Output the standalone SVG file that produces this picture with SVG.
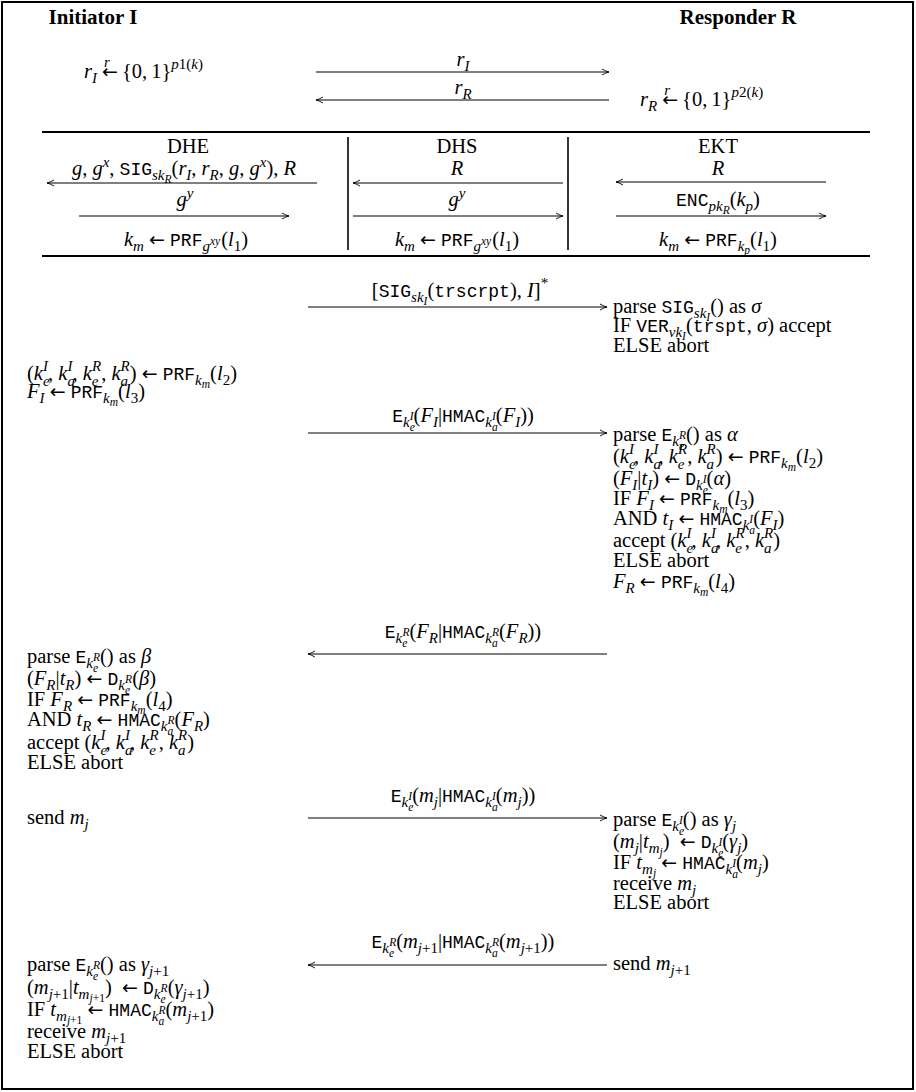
<svg xmlns="http://www.w3.org/2000/svg" width="916" height="1092" viewBox="0 0 916 1092">
<style>
text{font-family:"Liberation Serif","Times New Roman",serif;font-size:20.5px;fill:#000}
.i{font-style:italic}
.tt{font-family:"Liberation Mono","Courier New",monospace;font-size:18px;font-style:normal}
.s{font-size:15px}
.ss{font-size:11.5px}
.ar{font-family:"DejaVu Sans",sans-serif;font-size:19px;font-style:normal}
.h{font-weight:bold;font-size:21px}
.c{text-anchor:middle}
.ln{stroke:#000;stroke-width:1;fill:none}
.rule{stroke:#000;stroke-width:2;fill:none}
.vr{stroke:#000;stroke-width:1.6;fill:none}
</style>
<defs>
<marker id="ah" markerWidth="10" markerHeight="8" refX="8" refY="4" orient="auto" markerUnits="userSpaceOnUse"><path d="M1,1 Q5,3.3 8,4 Q5,4.7 1,7" fill="none" stroke="#000" stroke-width="0.9"/></marker>
</defs>
<rect x="2" y="2" width="911" height="1087" fill="#fff" class="rule"/>

<g id="headers">
<text class="h c" x="93" y="24">Initiator I</text>
<text class="h c" x="738" y="24">Responder R</text>
</g>

<g id="nonces">
<text x="84" y="78"><tspan class="i">r</tspan><tspan class="s i" dy="5">I</tspan><tspan dy="-5"> <tspan class="ar">←</tspan></tspan><tspan class="s i" dx="-14" dy="-11">r</tspan><tspan dx="12" dy="11">{0,&#8201;1}</tspan><tspan class="s" dy="-9"><tspan class="i">p</tspan>1(<tspan class="i">k</tspan>)</tspan></text>
<text class="c" x="463" y="66"><tspan class="i">r</tspan><tspan class="s i" dy="5">I</tspan></text>
<text class="c" x="463" y="94"><tspan class="i">r</tspan><tspan class="s i" dy="5">R</tspan></text>
<text x="640" y="106"><tspan class="i">r</tspan><tspan class="s i" dy="5">R</tspan><tspan dy="-5"> <tspan class="ar">←</tspan></tspan><tspan class="s i" dx="-14" dy="-11">r</tspan><tspan dx="12" dy="11">{0,&#8201;1}</tspan><tspan class="s" dy="-9"><tspan class="i">p</tspan>2(<tspan class="i">k</tspan>)</tspan></text>
</g>

<g id="table">
<line class="rule" x1="42" y1="132" x2="870" y2="132"/>
<line class="rule" x1="42" y1="256" x2="870" y2="256"/>
<line class="vr" x1="348" y1="137" x2="348" y2="250"/>
<line class="vr" x1="568" y1="137" x2="568" y2="250"/>
</g>

<g id="dhe">
<text class="c" x="188" y="153">DHE</text>
<text class="c" x="184" y="175"><tspan class="i">g</tspan>, <tspan class="i">g</tspan><tspan class="s i" dy="-8">x</tspan><tspan dy="8">, </tspan><tspan class="tt">SIG</tspan><tspan class="s i" dy="5">sk</tspan><tspan class="ss i" dy="3">R</tspan><tspan dy="-8">(</tspan><tspan class="i">r</tspan><tspan class="s i" dy="5">I</tspan><tspan dy="-5">, </tspan><tspan class="i">r</tspan><tspan class="s i" dy="5">R</tspan><tspan dy="-5">, </tspan><tspan class="i">g</tspan>, <tspan class="i">g</tspan><tspan class="s i" dy="-8">x</tspan><tspan dy="8">), </tspan><tspan class="i">R</tspan></text>
<text class="c" x="185" y="206"><tspan class="i">g</tspan><tspan class="s i" dy="-8">y</tspan></text>
<text class="c" x="186" y="246"><tspan class="i">k</tspan><tspan class="s i" dy="5">m</tspan><tspan dy="-5"> <tspan class="ar">←</tspan> </tspan><tspan class="tt">PRF</tspan><tspan class="s i" dy="5">g</tspan><tspan class="ss i" dy="-6">xy</tspan><tspan dx="1" dy="1">(</tspan><tspan class="i">l</tspan><tspan class="s" dy="5">1</tspan><tspan dy="-5">)</tspan></text>
</g>

<g id="dhs">
<text class="c" x="457" y="153">DHS</text>
<text class="c i" x="457" y="175">R</text>
<text class="c" x="457" y="206"><tspan class="i">g</tspan><tspan class="s i" dy="-8">y</tspan></text>
<text class="c" x="457" y="246"><tspan class="i">k</tspan><tspan class="s i" dy="5">m</tspan><tspan dy="-5"> <tspan class="ar">←</tspan> </tspan><tspan class="tt">PRF</tspan><tspan class="s i" dy="5">g</tspan><tspan class="ss i" dy="-6">xy</tspan><tspan dx="1" dy="1">(</tspan><tspan class="i">l</tspan><tspan class="s" dy="5">1</tspan><tspan dy="-5">)</tspan></text>
</g>

<g id="ekt">
<text class="c" x="718" y="153">EKT</text>
<text class="c i" x="718" y="175">R</text>
<text class="c" x="718" y="206"><tspan class="tt">ENC</tspan><tspan class="s i" dy="5">pk</tspan><tspan class="ss i" dy="3">R</tspan><tspan dy="-8">(</tspan><tspan class="i">k</tspan><tspan class="s i" dy="5">p</tspan><tspan dy="-5">)</tspan></text>
<text class="c" x="718" y="246"><tspan class="i">k</tspan><tspan class="s i" dy="5">m</tspan><tspan dy="-5"> <tspan class="ar">←</tspan> </tspan><tspan class="tt">PRF</tspan><tspan class="s i" dy="5">k</tspan><tspan class="ss i" dy="3">p</tspan><tspan dy="-8">(</tspan><tspan class="i">l</tspan><tspan class="s" dy="5">1</tspan><tspan dy="-5">)</tspan></text>
</g>

<g id="msg-sig">
<text class="c" x="460" y="297">[<tspan class="tt">SIG</tspan><tspan class="s i" dy="5">sk</tspan><tspan class="ss i" dy="3">I</tspan><tspan dy="-8">(</tspan><tspan class="tt">trscrpt</tspan>), <tspan class="i">I</tspan>]<tspan class="s" dy="-9">*</tspan></text>
</g>

<g id="r-verify">
<text x="613" y="313">parse <tspan class="tt">SIG</tspan><tspan class="s i" dy="5">sk</tspan><tspan class="ss i" dy="3">I</tspan><tspan dy="-8">() as </tspan><tspan class="i">σ</tspan></text>
<text x="613" y="332">IF <tspan class="tt">VER</tspan><tspan class="s i" dy="5">vk</tspan><tspan class="ss i" dy="3">I</tspan><tspan dy="-8">(</tspan><tspan class="tt">trspt</tspan>, <tspan class="i">σ</tspan>) accept</text>
<text x="613" y="352">ELSE abort</text>
</g>

<g id="i-keys">
<text x="27" y="380">(<tspan class="i">k</tspan><tspan class="s i" dy="6">e</tspan><tspan class="s i" dx="-6.5" dy="-15">I</tspan><tspan dy="9">, </tspan><tspan class="i">k</tspan><tspan class="s i" dy="6">a</tspan><tspan class="s i" dx="-7.5" dy="-15">I</tspan><tspan dy="9">, </tspan><tspan class="i">k</tspan><tspan class="s i" dy="6">e</tspan><tspan class="s i" dx="-6.5" dy="-15">R</tspan><tspan dy="9">, </tspan><tspan class="i">k</tspan><tspan class="s i" dy="6">a</tspan><tspan class="s i" dx="-7.5" dy="-15">R</tspan><tspan dy="9">) <tspan class="ar">←</tspan> </tspan><tspan class="tt">PRF</tspan><tspan class="s i" dy="5">k</tspan><tspan class="ss i" dy="3">m</tspan><tspan dy="-8">(</tspan><tspan class="i">l</tspan><tspan class="s" dy="5">2</tspan><tspan dy="-5">)</tspan></text>
<text x="27" y="398"><tspan class="i">F</tspan><tspan class="s i" dy="5">I</tspan><tspan dy="-5"> <tspan class="ar">←</tspan> </tspan><tspan class="tt">PRF</tspan><tspan class="s i" dy="5">k</tspan><tspan class="ss i" dy="3">m</tspan><tspan dy="-8">(</tspan><tspan class="i">l</tspan><tspan class="s" dy="5">3</tspan><tspan dy="-5">)</tspan></text>
</g>

<g id="msg-fi">
<text class="c" x="463" y="422"><tspan class="tt">E</tspan><tspan class="s i" dy="5">k</tspan><tspan class="ss i" dy="4">e</tspan><tspan class="ss i" dx="-5" dy="-11">I</tspan><tspan dy="2">(</tspan><tspan class="i">F</tspan><tspan class="s i" dy="5">I</tspan><tspan dy="-5">|</tspan><tspan class="tt">HMAC</tspan><tspan class="s i" dy="5">k</tspan><tspan class="ss i" dy="4">a</tspan><tspan class="ss i" dx="-5.7" dy="-11">I</tspan><tspan dy="2">(</tspan><tspan class="i">F</tspan><tspan class="s i" dy="5">I</tspan><tspan dy="-5">))</tspan></text>
</g>

<g id="r-fin">
<text x="613" y="441">parse <tspan class="tt">E</tspan><tspan class="s i" dy="5">k</tspan><tspan class="ss i" dy="4">e</tspan><tspan class="ss i" dx="-5" dy="-11">R</tspan><tspan dy="2">() as </tspan><tspan class="i">α</tspan></text>
<text x="613" y="463">(<tspan class="i">k</tspan><tspan class="s i" dy="6">e</tspan><tspan class="s i" dx="-6.5" dy="-15">I</tspan><tspan dy="9">, </tspan><tspan class="i">k</tspan><tspan class="s i" dy="6">a</tspan><tspan class="s i" dx="-7.5" dy="-15">I</tspan><tspan dy="9">, </tspan><tspan class="i">k</tspan><tspan class="s i" dy="6">e</tspan><tspan class="s i" dx="-6.5" dy="-15">R</tspan><tspan dy="9">, </tspan><tspan class="i">k</tspan><tspan class="s i" dy="6">a</tspan><tspan class="s i" dx="-7.5" dy="-15">R</tspan><tspan dy="9">) <tspan class="ar">←</tspan> </tspan><tspan class="tt">PRF</tspan><tspan class="s i" dy="5">k</tspan><tspan class="ss i" dy="3">m</tspan><tspan dy="-8">(</tspan><tspan class="i">l</tspan><tspan class="s" dy="5">2</tspan><tspan dy="-5">)</tspan></text>
<text x="613" y="485">(<tspan class="i">F</tspan><tspan class="s i" dy="5">I</tspan><tspan dy="-5">|</tspan><tspan class="i">t</tspan><tspan class="s i" dy="5">I</tspan><tspan dy="-5">) <tspan class="ar">←</tspan> </tspan><tspan class="tt">D</tspan><tspan class="s i" dy="5">k</tspan><tspan class="ss i" dy="4">e</tspan><tspan class="ss i" dx="-5" dy="-11">I</tspan><tspan dy="2">(</tspan><tspan class="i">α</tspan>)</text>
<text x="613" y="505">IF <tspan class="i">F</tspan><tspan class="s i" dy="5">I</tspan><tspan dy="-5"> <tspan class="ar">←</tspan> </tspan><tspan class="tt">PRF</tspan><tspan class="s i" dy="5">k</tspan><tspan class="ss i" dy="3">m</tspan><tspan dy="-8">(</tspan><tspan class="i">l</tspan><tspan class="s" dy="5">3</tspan><tspan dy="-5">)</tspan></text>
<text x="613" y="525">AND <tspan class="i">t</tspan><tspan class="s i" dy="5">I</tspan><tspan dy="-5"> <tspan class="ar">←</tspan> </tspan><tspan class="tt">HMAC</tspan><tspan class="s i" dy="5">k</tspan><tspan class="ss i" dy="4">a</tspan><tspan class="ss i" dx="-5.7" dy="-11">I</tspan><tspan dy="2">(</tspan><tspan class="i">F</tspan><tspan class="s i" dy="5">I</tspan><tspan dy="-5">)</tspan></text>
<text x="613" y="547">accept (<tspan class="i">k</tspan><tspan class="s i" dy="6">e</tspan><tspan class="s i" dx="-6.5" dy="-15">I</tspan><tspan dy="9">, </tspan><tspan class="i">k</tspan><tspan class="s i" dy="6">a</tspan><tspan class="s i" dx="-7.5" dy="-15">I</tspan><tspan dy="9">, </tspan><tspan class="i">k</tspan><tspan class="s i" dy="6">e</tspan><tspan class="s i" dx="-6.5" dy="-15">R</tspan><tspan dy="9">, </tspan><tspan class="i">k</tspan><tspan class="s i" dy="6">a</tspan><tspan class="s i" dx="-7.5" dy="-15">R</tspan><tspan dy="9">)</tspan></text>
<text x="613" y="567">ELSE abort</text>
<text x="613" y="588"><tspan class="i">F</tspan><tspan class="s i" dy="5">R</tspan><tspan dy="-5"> <tspan class="ar">←</tspan> </tspan><tspan class="tt">PRF</tspan><tspan class="s i" dy="5">k</tspan><tspan class="ss i" dy="3">m</tspan><tspan dy="-8">(</tspan><tspan class="i">l</tspan><tspan class="s" dy="5">4</tspan><tspan dy="-5">)</tspan></text>
</g>

<g id="msg-fr">
<text class="c" x="463" y="638"><tspan class="tt">E</tspan><tspan class="s i" dy="5">k</tspan><tspan class="ss i" dy="4">e</tspan><tspan class="ss i" dx="-5" dy="-11">R</tspan><tspan dy="2">(</tspan><tspan class="i">F</tspan><tspan class="s i" dy="5">R</tspan><tspan dy="-5">|</tspan><tspan class="tt">HMAC</tspan><tspan class="s i" dy="5">k</tspan><tspan class="ss i" dy="4">a</tspan><tspan class="ss i" dx="-5.7" dy="-11">R</tspan><tspan dy="2">(</tspan><tspan class="i">F</tspan><tspan class="s i" dy="5">R</tspan><tspan dy="-5">))</tspan></text>
</g>

<g id="i-fin">
<text x="27" y="663">parse <tspan class="tt">E</tspan><tspan class="s i" dy="5">k</tspan><tspan class="ss i" dy="4">e</tspan><tspan class="ss i" dx="-5" dy="-11">R</tspan><tspan dy="2">() as </tspan><tspan class="i">β</tspan></text>
<text x="27" y="685">(<tspan class="i">F</tspan><tspan class="s i" dy="5">R</tspan><tspan dy="-5">|</tspan><tspan class="i">t</tspan><tspan class="s i" dy="5">R</tspan><tspan dy="-5">) <tspan class="ar">←</tspan> </tspan><tspan class="tt">D</tspan><tspan class="s i" dy="5">k</tspan><tspan class="ss i" dy="4">e</tspan><tspan class="ss i" dx="-5" dy="-11">R</tspan><tspan dy="2">(</tspan><tspan class="i">β</tspan>)</text>
<text x="27" y="706">IF <tspan class="i">F</tspan><tspan class="s i" dy="5">R</tspan><tspan dy="-5"> <tspan class="ar">←</tspan> </tspan><tspan class="tt">PRF</tspan><tspan class="s i" dy="5">k</tspan><tspan class="ss i" dy="3">m</tspan><tspan dy="-8">(</tspan><tspan class="i">l</tspan><tspan class="s" dy="5">4</tspan><tspan dy="-5">)</tspan></text>
<text x="27" y="726">AND <tspan class="i">t</tspan><tspan class="s i" dy="5">R</tspan><tspan dy="-5"> <tspan class="ar">←</tspan> </tspan><tspan class="tt">HMAC</tspan><tspan class="s i" dy="5">k</tspan><tspan class="ss i" dy="4">a</tspan><tspan class="ss i" dx="-5.7" dy="-11">R</tspan><tspan dy="2">(</tspan><tspan class="i">F</tspan><tspan class="s i" dy="5">R</tspan><tspan dy="-5">)</tspan></text>
<text x="27" y="749">accept (<tspan class="i">k</tspan><tspan class="s i" dy="6">e</tspan><tspan class="s i" dx="-6.5" dy="-15">I</tspan><tspan dy="9">, </tspan><tspan class="i">k</tspan><tspan class="s i" dy="6">a</tspan><tspan class="s i" dx="-7.5" dy="-15">I</tspan><tspan dy="9">, </tspan><tspan class="i">k</tspan><tspan class="s i" dy="6">e</tspan><tspan class="s i" dx="-6.5" dy="-15">R</tspan><tspan dy="9">, </tspan><tspan class="i">k</tspan><tspan class="s i" dy="6">a</tspan><tspan class="s i" dx="-7.5" dy="-15">R</tspan><tspan dy="9">)</tspan></text>
<text x="27" y="769">ELSE abort</text>
</g>

<g id="i-send">
<text x="27" y="824">send <tspan class="i">m</tspan><tspan class="s i" dy="5">j</tspan></text>
</g>

<g id="msg-mj">
<text class="c" x="463" y="802"><tspan class="tt">E</tspan><tspan class="s i" dy="5">k</tspan><tspan class="ss i" dy="4">e</tspan><tspan class="ss i" dx="-5" dy="-11">I</tspan><tspan dy="2">(</tspan><tspan class="i">m</tspan><tspan class="s i" dy="5">j</tspan><tspan dy="-5">|</tspan><tspan class="tt">HMAC</tspan><tspan class="s i" dy="5">k</tspan><tspan class="ss i" dy="4">a</tspan><tspan class="ss i" dx="-5.7" dy="-11">I</tspan><tspan dy="2">(</tspan><tspan class="i">m</tspan><tspan class="s i" dy="5">j</tspan><tspan dy="-5">))</tspan></text>
</g>

<g id="r-recv">
<text x="613" y="826">parse <tspan class="tt">E</tspan><tspan class="s i" dy="5">k</tspan><tspan class="ss i" dy="4">e</tspan><tspan class="ss i" dx="-5" dy="-11">I</tspan><tspan dy="2">() as </tspan><tspan class="i">γ</tspan><tspan class="s i" dy="5">j</tspan></text>
<text x="613" y="848">(<tspan class="i">m</tspan><tspan class="s i" dy="5">j</tspan><tspan dy="-5">|</tspan><tspan class="i">t</tspan><tspan class="s i" dy="5">m</tspan><tspan class="ss i" dy="3">j</tspan><tspan dy="-8">)&#160; <tspan class="ar">←</tspan> </tspan><tspan class="tt">D</tspan><tspan class="s i" dy="5">k</tspan><tspan class="ss i" dy="4">e</tspan><tspan class="ss i" dx="-5" dy="-11">I</tspan><tspan dy="2">(</tspan><tspan class="i">γ</tspan><tspan class="s i" dy="5">j</tspan><tspan dy="-5">)</tspan></text>
<text x="613" y="869">IF <tspan class="i">t</tspan><tspan class="s i" dy="5">m</tspan><tspan class="ss i" dy="3">j</tspan><tspan dy="-8"> <tspan class="ar">←</tspan> </tspan><tspan class="tt">HMAC</tspan><tspan class="s i" dy="5">k</tspan><tspan class="ss i" dy="4">a</tspan><tspan class="ss i" dx="-5.7" dy="-11">I</tspan><tspan dy="2">(</tspan><tspan class="i">m</tspan><tspan class="s i" dy="5">j</tspan><tspan dy="-5">)</tspan></text>
<text x="613" y="890">receive <tspan class="i">m</tspan><tspan class="s i" dy="5">j</tspan></text>
<text x="613" y="909">ELSE abort</text>
</g>

<g id="msg-mj1">
<text class="c" x="463" y="948"><tspan class="tt">E</tspan><tspan class="s i" dy="5">k</tspan><tspan class="ss i" dy="4">e</tspan><tspan class="ss i" dx="-5" dy="-11">R</tspan><tspan dy="2">(</tspan><tspan class="i">m</tspan><tspan class="s" dy="5"><tspan class="i">j</tspan>+1</tspan><tspan dy="-5">|</tspan><tspan class="tt">HMAC</tspan><tspan class="s i" dy="5">k</tspan><tspan class="ss i" dy="4">a</tspan><tspan class="ss i" dx="-5.7" dy="-11">R</tspan><tspan dy="2">(</tspan><tspan class="i">m</tspan><tspan class="s" dy="5"><tspan class="i">j</tspan>+1</tspan><tspan dy="-5">))</tspan></text>
</g>

<g id="r-send">
<text x="613" y="970">send <tspan class="i">m</tspan><tspan class="s" dy="5"><tspan class="i">j</tspan>+1</tspan></text>
</g>

<g id="i-recv">
<text x="27" y="971">parse <tspan class="tt">E</tspan><tspan class="s i" dy="5">k</tspan><tspan class="ss i" dy="4">e</tspan><tspan class="ss i" dx="-5" dy="-11">R</tspan><tspan dy="2">() as </tspan><tspan class="i">γ</tspan><tspan class="s" dy="5"><tspan class="i">j</tspan>+1</tspan></text>
<text x="27" y="994">(<tspan class="i">m</tspan><tspan class="s" dy="5"><tspan class="i">j</tspan>+1</tspan><tspan dy="-5">|</tspan><tspan class="i">t</tspan><tspan class="s i" dy="5">m</tspan><tspan class="ss" dy="3"><tspan class="i">j</tspan>+1</tspan><tspan dy="-8">)&#160; <tspan class="ar">←</tspan> </tspan><tspan class="tt">D</tspan><tspan class="s i" dy="5">k</tspan><tspan class="ss i" dy="4">e</tspan><tspan class="ss i" dx="-5" dy="-11">R</tspan><tspan dy="2">(</tspan><tspan class="i">γ</tspan><tspan class="s" dy="5"><tspan class="i">j</tspan>+1</tspan><tspan dy="-5">)</tspan></text>
<text x="27" y="1016">IF <tspan class="i">t</tspan><tspan class="s i" dy="5">m</tspan><tspan class="ss" dy="3"><tspan class="i">j</tspan>+1</tspan><tspan dy="-8"> <tspan class="ar">←</tspan> </tspan><tspan class="tt">HMAC</tspan><tspan class="s i" dy="5">k</tspan><tspan class="ss i" dy="4">a</tspan><tspan class="ss i" dx="-5.7" dy="-11">R</tspan><tspan dy="2">(</tspan><tspan class="i">m</tspan><tspan class="s" dy="5"><tspan class="i">j</tspan>+1</tspan><tspan dy="-5">)</tspan></text>
<text x="27" y="1038">receive <tspan class="i">m</tspan><tspan class="s" dy="5"><tspan class="i">j</tspan>+1</tspan></text>
<text x="27" y="1058">ELSE abort</text>
</g>

<g id="connectors" class="ln" marker-end="url(#ah)">
<line x1="316" y1="72" x2="609" y2="72"/>
<line x1="609" y1="100" x2="316" y2="100"/>
<line x1="317" y1="183" x2="47" y2="183"/>
<line x1="79" y1="216" x2="289" y2="216"/>
<line x1="563" y1="183" x2="353" y2="183"/>
<line x1="353" y1="216" x2="563" y2="216"/>
<line x1="826" y1="182" x2="616" y2="182"/>
<line x1="616" y1="216" x2="826" y2="216"/>
<line x1="308" y1="307" x2="607" y2="307"/>
<line x1="308" y1="433" x2="607" y2="433"/>
<line x1="607" y1="654" x2="308" y2="654"/>
<line x1="308" y1="818" x2="607" y2="818"/>
<line x1="607" y1="965" x2="308" y2="965"/>
</g>
</svg>
